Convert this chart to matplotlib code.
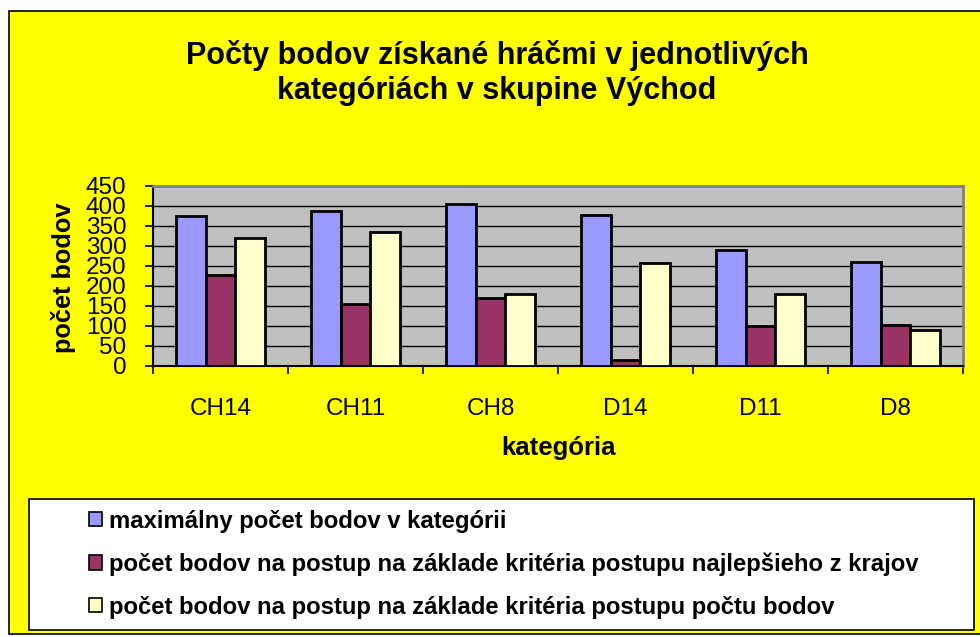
import matplotlib
matplotlib.use("Agg")
import matplotlib.pyplot as plt
import numpy as np
from matplotlib.patches import Rectangle, Patch

categories = ["CH14", "CH11", "CH8", "D14", "D11", "D8"]
max_points = [375, 388, 404, 377, 289, 260]
best_region = [228, 154, 169, 14, 100, 102]
points_crit = [321, 334, 181, 257, 181, 90]
series_labels = [
    "maximálny počet bodov v kategórii",
    "počet bodov na postup na základe kritéria postupu najlepšieho z krajov",
    "počet bodov na postup na základe kritéria postupu počtu bodov",
]
y_ticks = list(range(0, 451, 50))
colors = ["#9999FF", "#993366", "#FFFFCC"]

plt.rcParams['font.family'] = ['Liberation Sans', 'DejaVu Sans']

W, H = 980, 637
fig = plt.figure(figsize=(W / 100, H / 100), dpi=100)
fig.patch.set_facecolor("white")

def fx(x):
    return x / W

def fy(y):
    return 1 - y / H

# chart area background
fig.patches.append(Rectangle((fx(9), fy(634)), fx(990) - fx(9), fy(11) - fy(634),
                             transform=fig.transFigure, facecolor="#FFFF00",
                             edgecolor="black", linewidth=1.2, zorder=-10))

ax = fig.add_axes([fx(153), fy(366), fx(963) - fx(153), fy(186) - fy(366)])
ax.set_zorder(1)
ax.set_facecolor("#C0C0C0")

x = np.arange(len(categories))
bw = 0.222
for i, (vals, c) in enumerate(zip([max_points, best_region, points_crit], colors)):
    ax.bar(x + (i - 1) * bw, vals, width=bw, color=c, edgecolor="black",
           linewidth=2.0, zorder=3, label=series_labels[i])

ax.set_xlim(-0.5, len(categories) - 0.5)
ax.set_ylim(0, 450)
ax.set_yticks(y_ticks)
ax.set_yticklabels([str(v) for v in y_ticks], fontsize=17.5)
ax.yaxis.grid(True, color="black", linewidth=1.0, zorder=1)
ax.set_axisbelow(True)
ax.tick_params(axis="y", direction="out", length=6, width=1.2, pad=13, colors="black")

ax.set_xticks(x)
ax.set_xticklabels(categories, fontsize=17.5)
ax.tick_params(axis="x", which="major", length=0, pad=23)
ax.set_xticks(np.arange(-0.5, len(categories), 1.0), minor=True)
ax.tick_params(axis="x", which="minor", direction="out", length=6, width=1.2)

for s in ["left", "bottom"]:
    ax.spines[s].set_color("black")
    ax.spines[s].set_linewidth(1.5)
for s in ["top", "right"]:
    ax.spines[s].set_color("#808080")
    ax.spines[s].set_linewidth(2.0)

fig.text(fx(497), fy(73), "Počty bodov získané hráčmi v jednotlivých\nkategóriách v skupine Východ",
         ha="center", va="center", fontsize=22, fontweight="bold", linespacing=1.2)
fig.text(fx(63), fy(278), "počet bodov", rotation=90, ha="center", va="center",
         fontsize=18.3, fontweight="bold")
fig.text(fx(558), fy(448), "kategória", ha="center", va="center",
         fontsize=18.5, fontweight="bold")

# legend box
fig.patches.append(Rectangle((fx(29), fy(630)), fx(974) - fx(29), fy(499) - fy(630),
                             transform=fig.transFigure, facecolor="white",
                             edgecolor="black", linewidth=1.2, zorder=1))
handles = [Patch(facecolor=c, edgecolor="black", linewidth=1.2) for c in colors]
leg = fig.legend(handles, series_labels, loc="upper left",
                 bbox_to_anchor=(fx(79), fy(500)), frameon=False,
                 prop={"size": 17.2, "weight": "bold"}, handlelength=0.55,
                 handleheight=0.55, handletextpad=0.3, labelspacing=0.83,
                 borderaxespad=0)
leg.set_zorder(2)

fig.savefig("out.png", dpi=100)
